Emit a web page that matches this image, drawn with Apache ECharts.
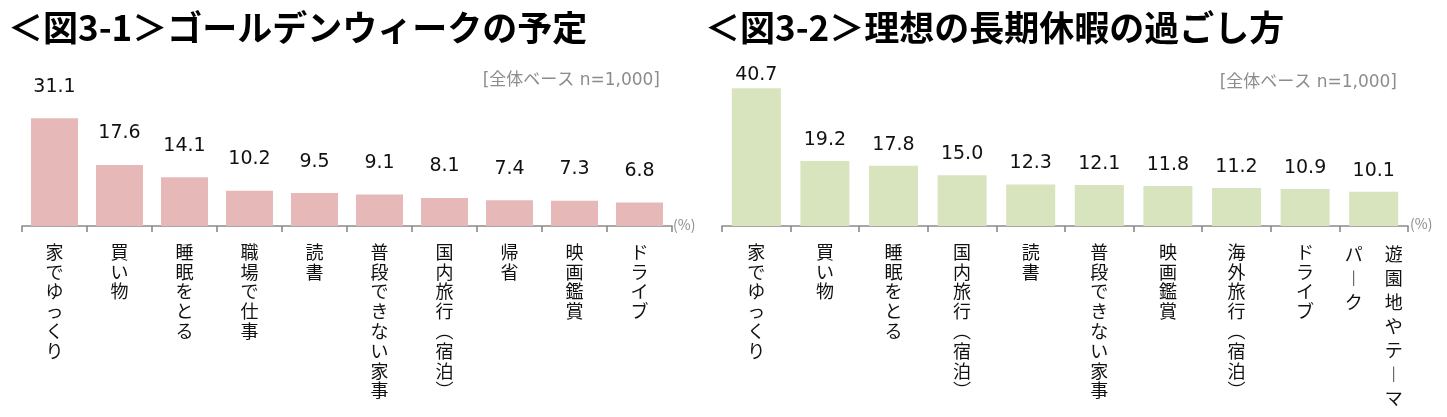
<!DOCTYPE html>
<html><head><meta charset="utf-8">
<script src="https://cdn.jsdelivr.net/npm/echarts@6/dist/echarts.min.js"></script>
<style>html,body{margin:0;padding:0;background:#fff}#c{width:1447px;height:417px}</style>
</head><body><div id="c"></div>
<script>
// ---- data ----
const titleLeft = '＜図3-1＞ゴールデンウィークの予定';
const titleRight = '＜図3-2＞理想の長期休暇の過ごし方';
const baseNote = '[全体ベース n=1,000]';
const unitLabel = '(%)';
const categoriesGW = ['家でゆっくり','買い物','睡眠をとる','職場で仕事','読書','普段できない家事','国内旅行（宿泊）','帰省','映画鑑賞','ドライブ'];
const valuesGW = [31.1, 17.6, 14.1, 10.2, 9.5, 9.1, 8.1, 7.4, 7.3, 6.8];
const categoriesIdeal = ['家でゆっくり','買い物','睡眠をとる','国内旅行（宿泊）','読書','普段できない家事','映画鑑賞','海外旅行（宿泊）','ドライブ','遊園地やテーマパーク'];
const valuesIdeal = [40.7, 19.2, 17.8, 15.0, 12.3, 12.1, 11.8, 11.2, 10.9, 10.1];

// ---- helpers ----
const JP = '"Noto Sans CJK JP", sans-serif';
const NUM = '"DejaVu Sans", sans-serif';
const NOTE = '"DejaVu Sans", "Noto Sans CJK JP", sans-serif';
const VERT = {'（':'︵','）':'︶','ー':'︱'};
function vchars(s){ return Array.from(s).map(c => VERT[c] || c); }
function verticalLabel(s){
  const ch = vchars(s);
  if (ch.length <= 8) return ch.join('\n');
  const colLen = 7, cols = [];
  for (let i = 0; i < ch.length; i += colLen) cols.push(ch.slice(i, i + colLen));
  const lines = [];
  for (let r = 0; r < colLen; r++) {
    const parts = cols.slice().reverse().map(col => col[r] || '　');
    lines.push('{w|' + parts.join('　 ') + '}');
  }
  return lines.join('\n');
}
const axisGray = '#8a8a8a';
function xAxisCfg(idx, cats){
  return {
    type:'category', gridIndex: idx, data: cats,
    axisLine:{show:true, lineStyle:{color:axisGray, width:1.6}},
    axisTick:{show:true, length:6, lineStyle:{color:axisGray, width:1.6}},
    axisLabel:{interval:0, margin:16, formatter: verticalLabel, fontSize:18, lineHeight:19.8,
      color:'#111', fontFamily: JP, verticalAlign:'top', align:'center',
      rich:{w:{fontSize:18, lineHeight:24, color:'#111', fontFamily: JP}}}
  };
}
function labelCfg(dist){
  return {show:true, position:'top', distance:dist, fontSize:19, fontFamily: NUM, color:'#111',
    formatter: p => Number(p.value).toFixed(1)};
}
const chart = echarts.init(document.getElementById('c'), null, {renderer:'canvas'});
chart.setOption({
  animation:false,
  backgroundColor:'#fff',
  title:[
    {text:titleLeft, left:8, top:10, padding:0, textStyle:{fontSize:35, fontWeight:'bold', fontFamily:JP, color:'#000'}},
    {text:titleRight, left:705, top:10, padding:0, textStyle:{fontSize:35, fontWeight:'bold', fontFamily:JP, color:'#000'}},
    {text:baseNote, right:787, top:72, padding:0, textStyle:{fontSize:17, fontWeight:'normal', fontFamily:NOTE, color:'#8c8c8c'}},
    {text:baseNote, right:50, top:74, padding:0, textStyle:{fontSize:17, fontWeight:'normal', fontFamily:NOTE, color:'#8c8c8c'}},
    {text:unitLabel, left:673, top:218, padding:0, textStyle:{fontSize:14, fontWeight:'normal', fontFamily:JP, color:'#8c8c8c'}},
    {text:unitLabel, left:1410, top:217, padding:0, textStyle:{fontSize:14, fontWeight:'normal', fontFamily:JP, color:'#8c8c8c'}}
  ],
  grid:[
    {left:22, width:650, top:226 - 40*3.465, height:40*3.465},
    {left:722, width:686, top:226 - 50*3.384, height:50*3.384}
  ],
  xAxis:[xAxisCfg(0, categoriesGW), xAxisCfg(1, categoriesIdeal)],
  yAxis:[
    {type:'value', gridIndex:0, min:0, max:40, show:false, splitLine:{show:false}},
    {type:'value', gridIndex:1, min:0, max:50, show:false, splitLine:{show:false}}
  ],
  series:[
    {type:'bar', xAxisIndex:0, yAxisIndex:0, data:valuesGW, barWidth:47,
      itemStyle:{color:'#e6b9b8'}, label:labelCfg(22)},
    {type:'bar', xAxisIndex:1, yAxisIndex:1,
      data:valuesIdeal.map((v,i) => i === 0 ? {value:v, label:{distance:4}} : v), barWidth:49,
      itemStyle:{color:'#d7e4bd'}, label:labelCfg(11.5)}
  ]
});
</script></body></html>
